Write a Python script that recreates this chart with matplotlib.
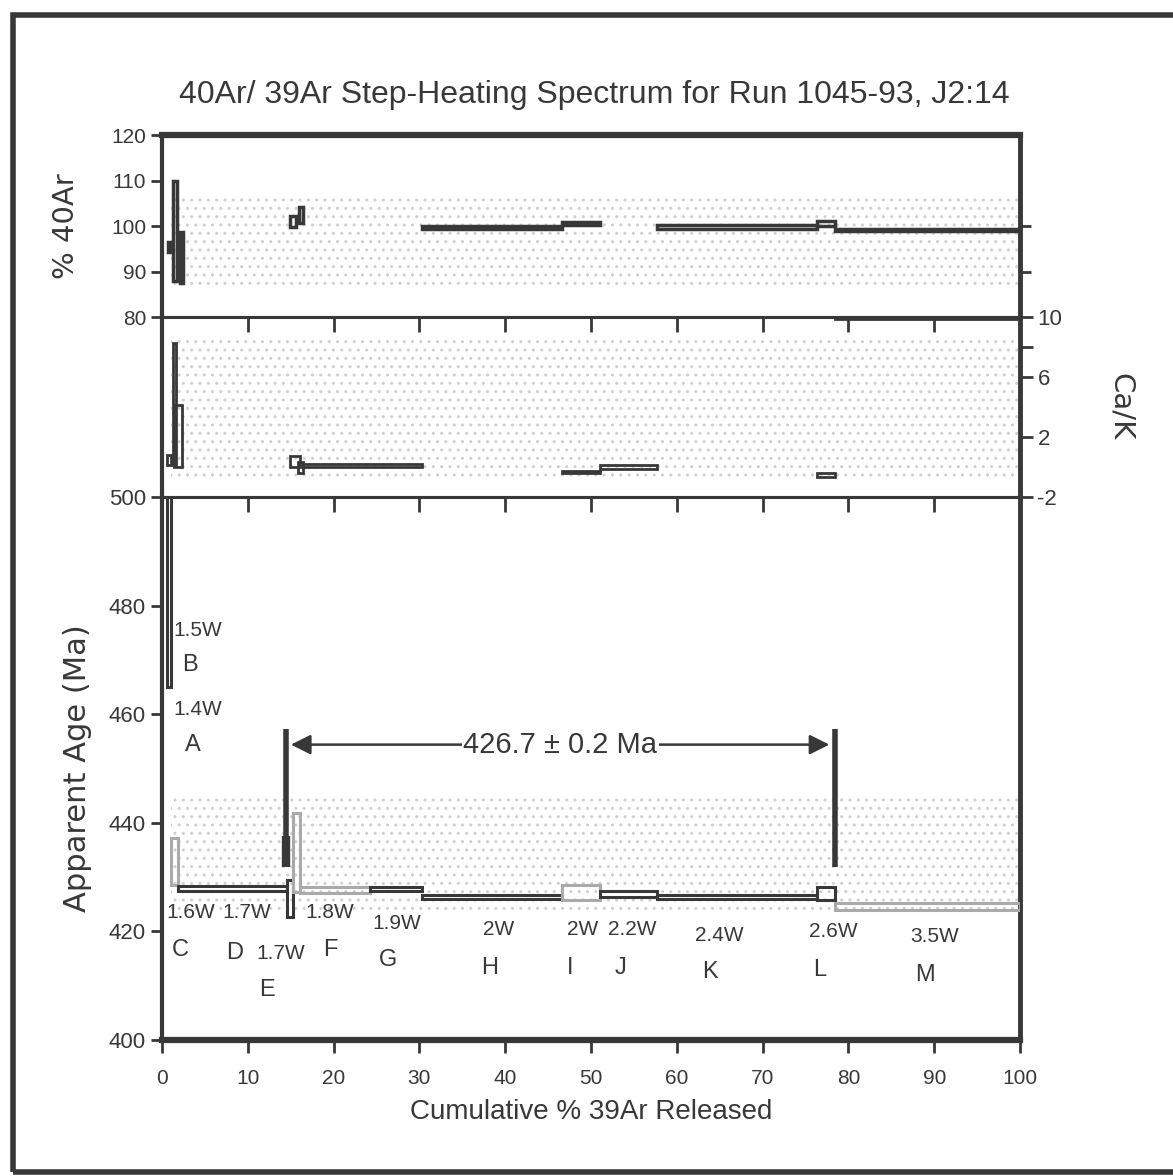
import matplotlib
matplotlib.use("Agg")
import matplotlib.pyplot as plt
from matplotlib.patches import Rectangle

# ---- data ----
# cumulative % 39Ar step edges, apparent age (Ma) and 2-sigma half width
step_left = [0.0, 0.6, 1.1, 1.9, 14.6, 15.3, 16.1, 24.2, 30.3, 46.6, 51.0, 57.7, 76.3, 78.4]
step_right = [0.6, 1.1, 1.9, 14.6, 15.3, 16.1, 24.2, 30.3, 46.6, 51.0, 57.7, 76.3, 78.4, 100.0]
step_age = [560.0, 490.0, 432.9, 427.9, 426.1, 434.5, 427.6, 427.8, 426.3, 427.1, 426.85, 426.3, 427.0, 424.6]
step_err = [40.0, 25.0, 4.3, 0.4, 3.4, 7.3, 0.5, 0.3, 0.35, 1.4, 0.55, 0.4, 1.2, 0.6]
step_dark = [True, True, False, True, True, False, False, True, True, False, True, True, True, False]

# % 40Ar* panel (not every step is plotted in the original)
ar_left = [0.7, 1.25, 2.15, 14.9, 16.0, 30.3, 46.6, 57.7, 76.3, 78.4]
ar_right = [1.0, 1.7, 2.4, 15.6, 16.4, 46.6, 51.0, 76.3, 78.4, 100.0]
ar_val = [95.4, 99.0, 93.1, 101.0, 102.4, 99.7, 100.5, 99.7, 100.6, 99.2]
ar_err = [1.0, 11.0, 5.6, 1.3, 1.7, 0.4, 0.3, 0.45, 0.5, 0.25]

# Ca/K panel
ck_left = [0.6, 1.25, 1.35, 14.9, 15.9, 16.4, 46.6, 51.0, 76.3, 78.4]
ck_right = [1.1, 1.6, 2.3, 16.1, 16.4, 30.3, 51.0, 57.7, 78.4, 100.0]
ck_val = [0.47, 4.2, 2.07, 0.37, -0.03, 0.07, -0.33, 0.0, -0.53, 9.95]
ck_err = [0.33, 4.07, 2.07, 0.37, 0.37, 0.1, 0.05, 0.15, 0.12, 0.05]

# heating steps: power and letter
powers = ["1.4W", "1.5W", "1.6W", "1.7W", "1.7W", "1.8W", "1.9W", "2W", "2W", "2.2W", "2.4W", "2.6W", "3.5W"]
letters = ["A", "B", "C", "D", "E", "F", "G", "H", "I", "J", "K", "L", "M"]
power_x = [4.2, 4.2, 3.3, 9.9, 13.8, 19.6, 27.4, 39.2, 49.0, 54.8, 65.0, 78.2, 90.1]
power_y = [460.8, 475.5, 423.4, 423.4, 416.0, 423.4, 421.5, 420.3, 420.3, 420.3, 419.3, 419.9, 419.0]
letter_x = [3.6, 3.3, 2.1, 8.5, 12.2, 19.6, 26.3, 38.2, 47.6, 53.4, 63.9, 76.7, 88.9]
letter_y = [454.3, 469.1, 416.6, 416.0, 409.2, 416.6, 414.7, 413.3, 413.3, 413.3, 412.5, 412.9, 412.0]

plateau_start = 14.4
plateau_end = 78.4
plateau_text = "426.7 \u00b1 0.2 Ma"

dark = "#383838"
gray = "#aaaaaa"
dots = "#cfcfcf"
narrow = ["Liberation Sans", "DejaVu Sans"]
plain = ["DejaVu Sans"]

fig = plt.figure(figsize=(11.73, 11.76), dpi=100)

L, W = 0.1381, 0.7315
ax_ar = fig.add_axes([L, 0.7304, W, 0.1548])
ax_ck = fig.add_axes([L, 0.5774, W, 0.1530])
ax = fig.add_axes([L, 0.1156, W, 0.4618])

for a in (ax_ar, ax_ck, ax):
    a.set_xlim(0, 100)
    for s in a.spines.values():
        s.set_color(dark)
        s.set_linewidth(2.2)
    a.spines["left"].set_linewidth(3)
    a.spines["right"].set_linewidth(3.5)

ax_ar.spines["top"].set_linewidth(4.5)
ax.spines["bottom"].set_linewidth(4.5)


def boxes(a, x0s, x1s, vals, errs, colors, lw=2.0):
    for x0, x1, v, e, c in zip(x0s, x1s, vals, errs, colors):
        a.add_patch(Rectangle((x0, v - e), x1 - x0, 2 * e, fill=False,
                              edgecolor=c, linewidth=lw, zorder=3))


# halftone background of the scan
ax_ar.add_patch(Rectangle((1, 86), 99, 21, facecolor="none", edgecolor=dots, hatch="..", lw=0, zorder=0))
ax_ck.add_patch(Rectangle((1, -0.9), 99, 9.4, facecolor="none", edgecolor=dots, hatch="..", lw=0, zorder=0))
ax.add_patch(Rectangle((1, 423), 99, 22, facecolor="none", edgecolor=dots, hatch="..", lw=0, zorder=0))

# % 40Ar panel
ax_ar.set_ylim(80, 120)
boxes(ax_ar, ar_left, ar_right, ar_val, ar_err, [dark] * len(ar_val), lw=2.5)
ax_ar.set_yticks([80, 90, 100, 110, 120])
ax_ar.tick_params(axis="y", left=True, right=False, direction="out",
                  length=8, width=2, color=dark, labelsize=15, labelcolor=dark)
ax_ar.tick_params(axis="x", bottom=False, labelbottom=False)
ax_ar.set_ylabel("% 40Ar", family=plain, fontsize=21, color=dark, labelpad=22)
sec = ax_ar.secondary_yaxis("right")
sec.set_yticks([90, 100])
sec.tick_params(axis="y", direction="out", length=8, width=2, color=dark, labelright=False)
sec.spines["right"].set_visible(False)

# Ca/K panel
ax_ck.set_ylim(-2, 10)
boxes(ax_ck, ck_left, ck_right, ck_val, ck_err, [dark] * len(ck_val), lw=2.0)
ax_ck.yaxis.tick_right()
ax_ck.yaxis.set_label_position("right")
ax_ck.set_yticks([-2, 2, 6, 8, 10])
ax_ck.set_yticklabels(["-2", "2", "6", "", "10"])
ax_ck.tick_params(axis="y", direction="out", length=9, width=2, color=dark,
                  labelsize=16, labelcolor=dark)
ax_ck.set_xticks(range(10, 100, 10))
ax_ck.tick_params(axis="x", top=True, bottom=False, labelbottom=False, direction="in",
                  length=11, width=2, color=dark)
ax_ck.set_ylabel("Ca/K", family=plain, fontsize=21, color=dark, rotation=-90, labelpad=52)

# age spectrum
ax.set_ylim(400, 500)
colors = [dark if d else gray for d in step_dark]
boxes(ax, step_left, step_right, step_age, step_err, colors, lw=2.2)
ax.set_yticks(range(400, 501, 20))
ax.tick_params(axis="y", direction="out", length=8, width=2, color=dark,
               labelsize=16, labelcolor=dark)
ax.set_xticks(range(0, 101, 10))
ax.tick_params(axis="x", bottom=True, top=True, direction="out", length=9, width=2,
               color=dark, labelsize=15, labelcolor=dark, pad=12)
for t in ax.xaxis.get_major_ticks():
    t.tick2line.set_markersize(11)
    t.tick2line.set_marker(3)  # tick pointing down from the top edge
for lab in ax.get_xticklabels() + ax.get_yticklabels() + ax_ar.get_yticklabels() + ax_ck.get_yticklabels():
    lab.set_family(narrow)
ax.set_xlabel("Cumulative % 39Ar Released", family=narrow, fontsize=20, color=dark, labelpad=8)
ax.set_ylabel("Apparent Age (Ma)", family=plain, fontsize=22, color=dark, labelpad=12)

for p, px, py in zip(powers, power_x, power_y):
    ax.text(px, py, p, ha="center", va="center", family=narrow, fontsize=15, color=dark)
for s, lx, ly in zip(letters, letter_x, letter_y):
    ax.text(lx, ly, s, ha="center", va="center", family=narrow, fontsize=17, color=dark)

# plateau marker
ax.vlines([plateau_start, plateau_end], 431.8, 457.3, color=dark, lw=4, zorder=4)
ax.vlines([plateau_start], 431.8, 437.5, color=dark, lw=6, zorder=4)
text_x, arrow_y = 46.4, 454.4
ax.annotate("", xy=(plateau_start + 0.3, arrow_y), xytext=(text_x, arrow_y),
            arrowprops=dict(arrowstyle="-|>", color=dark, lw=1.8, mutation_scale=30), zorder=4)
ax.annotate("", xy=(plateau_end - 0.3, arrow_y), xytext=(text_x, arrow_y),
            arrowprops=dict(arrowstyle="-|>", color=dark, lw=1.8, mutation_scale=30), zorder=4)
ax.text(text_x, arrow_y, plateau_text, ha="center", va="center", family=narrow, fontsize=21,
        color=dark, zorder=5, bbox=dict(facecolor="white", edgecolor="none", pad=1))

fig.text(0.507, 0.919, "40Ar/ 39Ar Step-Heating Spectrum for Run 1045-93, J2:14",
         ha="center", va="center", family=narrow, fontsize=23, color=dark)

# border of the scanned page
fig.add_artist(Rectangle((0.011, 0.0035), 1.2, 0.9835, transform=fig.transFigure,
                         fill=False, edgecolor=dark, linewidth=4))

fig.savefig("out.png", dpi=100)
